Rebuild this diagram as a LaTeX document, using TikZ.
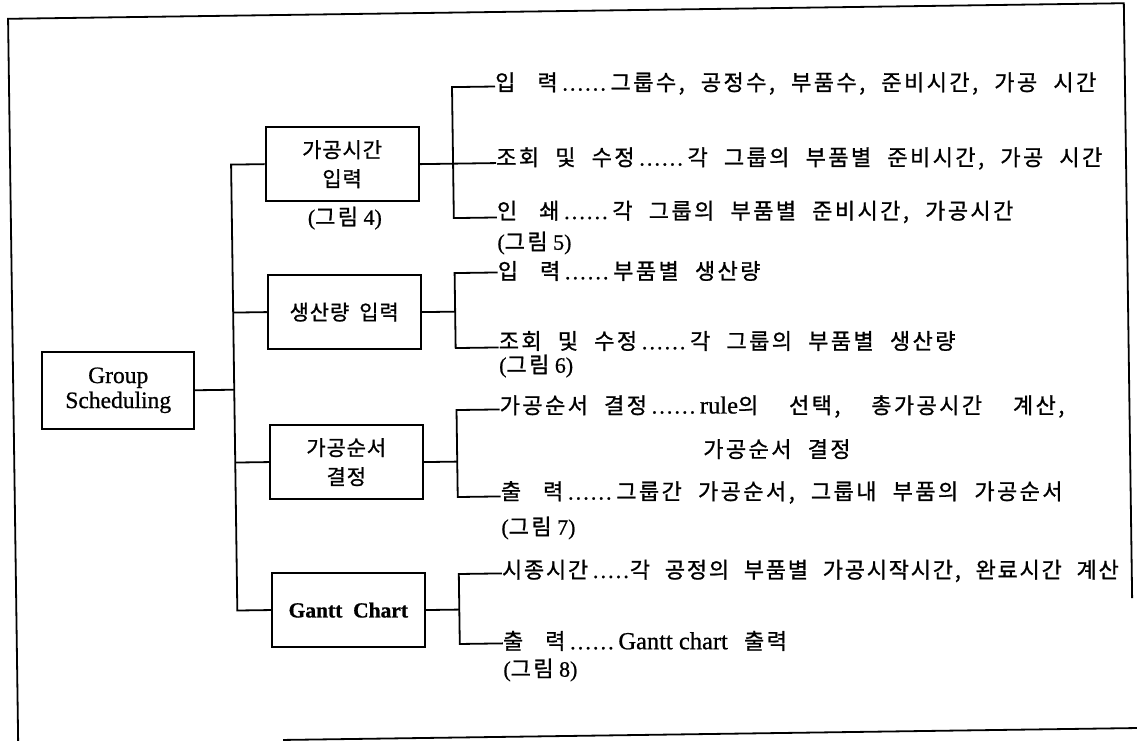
\documentclass[tikz,border=0pt]{standalone}
\usepackage{fontspec}
\setmainfont{Liberation Serif}[FakeBold=0.8]
\newfontfamily\kr[WordSpace=1.8,LetterSpace=4,FakeBold=1]{Noto Sans CJK KR}
\newfontfamily\krs[WordSpace=2.2,LetterSpace=11,FakeBold=1]{Noto Sans CJK KR}
\newcommand\pd{\makebox[7.6pt][c]{\rmfamily .}}
\newcommand\dsix{\pd\pd\pd\pd\pd\pd}
\newcommand\dfive{\pd\pd\pd\pd\pd}
\newcommand\gap{\hspace{1em}}
\newcommand\wsp{\hspace{1.4em}}
\newcommand\lat[1]{{\rmfamily\fontsize{24.5}{25}\selectfont #1}}
\newcommand\fig[1]{{\rmfamily(}그림{\rmfamily\ #1)}}
\begin{document}
\begin{tikzpicture}[x=1pt,y=-1pt,
  ln/.style={line width=1.8pt},
  box/.style={draw,line width=1.8pt,minimum width=153pt,minimum height=74pt,
    align=center,inner sep=0pt,font=\kr\fontsize{21}{29}\selectfont},
  lbl/.style={anchor=west,inner sep=0pt,font=\krs\fontsize{22}{25}\selectfont},
  figlbl/.style={inner sep=0pt,font=\krs\fontsize{22}{25}\selectfont}]
\useasboundingbox (0,0) rectangle (1137,740);
\begin{scope}[rotate around={0.8:(568,370)}]
% frame
\coordinate (f1) at (13,748);
\coordinate (f2) at (13,11);
\coordinate (f3) at (1129,11);
\coordinate (f4) at (1129,606);
\coordinate (f5) at (278,736);
\coordinate (f6) at (1150,736);
\draw[ln] (f1) -- (f2) -- (f3) -- (f4);
\draw[ln] (f5) -- (f6);
% boxes
\node[box,minimum width=152pt,minimum height=77pt,
  font=\rmfamily\fontsize{23.5}{25}\selectfont] (gs) at (118,384) {Group\\Scheduling};
\node[box] (b1) at (345,161) {가공시간\\입력};
\node[box] (b2) at (345,309) {생산량 입력};
\node[box] (b3) at (345,459) {가공순서\\결정};
\node[box,font=\rmfamily\bfseries\fontsize{21.5}{25}\selectfont] (b4) at (345,607) {Gantt\ \ Chart};
\node[figlbl] (f4n) at (347,215) {\fig{4}};
% trunk
\coordinate (tr) at (234,0);
\draw[ln] (gs.east) -- (gs.east -| tr);
\draw[ln] (b1.west) -- (b1.west -| tr) -- (b4.west -| tr) -- (b4.west);
\draw[ln] (b2.west) -- (b2.west -| tr);
\draw[ln] (b3.west) -- (b3.west -| tr);
% branch 1
\node[lbl] (t11) at (499,82.5) {입\gap 력\,\dsix\,그룹수, 공정수, 부품수, 준비시간, 가공 시간};
\node[lbl] (t12) at (499,157.5) {조회 및 수정\,\dsix\,각 그룹의 부품별 준비시간, 가공 시간};
\node[lbl] (t13) at (499,211) {인\gap 쇄\,\dsix\,각 그룹의 부품별 준비시간, 가공시간};
\node[lbl] (f5n) at (499,242) {\fig{5}};
\coordinate (k11) at (456,85.5);
\coordinate (k13) at (456,216.5);
\draw[ln] (t11.west |- k11) -- (k11) -- (k13) -- (t13.west |- k13);
\draw[ln] (b1.east) -- (t12.west |- b1.east);
% branch 2
\node[lbl] (t21) at (499,270) {입\gap 력\,\dsix\,부품별 생산량};
\node[lbl] (t22) at (499,340) {조회 및 수정\,\dsix\,각 그룹의 부품별 생산량};
\node[lbl] (f6n) at (499,365) {\fig{6}};
\coordinate (k21) at (456,271.5);
\coordinate (k22) at (456,346.5);
\draw[ln] (t21.west |- k21) -- (k21) -- (k22) -- (t22.west |- k22);
\draw[ln] (b2.east) -- (b2.east -| k21);
% branch 3
\node[lbl] (t31) at (499,405.5) {가공순서 결정\,\dsix\,\lat{rule}의\wsp 선택,\wsp 총가공시간\wsp 계산,};
\node[lbl] (t31b) at (702,451) {가공순서 결정};
\node[lbl] (t32) at (499,491.5) {출\gap 력\,\dsix\,그룹간 가공순서, 그룹내 부품의 가공순서};
\node[lbl] (f7n) at (499,527) {\fig{7}};
\coordinate (k31) at (456,408.5);
\coordinate (k32) at (456,495.5);
\draw[ln] (t31.west |- k31) -- (k31) -- (k32) -- (t32.west |- k32);
\draw[ln] (b3.east) -- (b3.east -| k31);
% branch 4
\node[lbl] (t41) at (499,570) {\addfontfeature{LetterSpace=8}시종시간\,\dfive 각 공정의 부품별 가공시작시간, 완료시간 계산};
\node[lbl] (t42) at (499,640) {출\gap 력\,\dsix\,\lat{Gantt chart} 출력};
\node[lbl] (f8n) at (499,669) {\fig{8}};
\coordinate (k41) at (456,572.5);
\coordinate (k42) at (456,642.5);
\draw[ln] (t41.west |- k41) -- (k41) -- (k42) -- (t42.west |- k42);
\draw[ln] (b4.east) -- (b4.east -| k41);
\end{scope}
\end{tikzpicture}
\end{document}
